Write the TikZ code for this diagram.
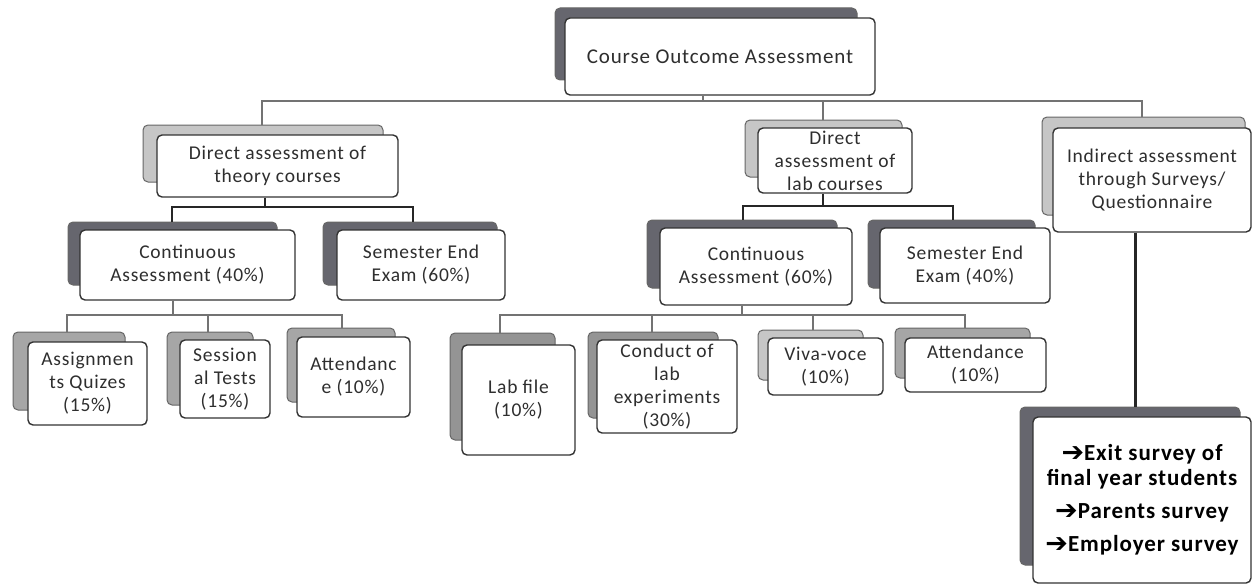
\documentclass[tikz,border=0pt]{standalone}
\usepackage{fontspec}
\setmainfont{Carlito}[LetterSpace=4]
\newfontfamily\arrowfont{DejaVu Sans}
\usetikzlibrary{fit,calc}
\definecolor{shdark}{HTML}{66666E}
\definecolor{shlight}{HTML}{C6C6C6}
\definecolor{shmid}{HTML}{A6A6A6}
\definecolor{shmidd}{HTML}{949494}
\tikzset{
  frontbox/.style={draw=black!80, line width=1.4pt, fill=white, rounded corners=5pt, inner sep=0pt},
  backbox/.style={draw=black!60, line width=1pt, rounded corners=5pt, inner sep=0pt},
  txt/.style={align=center, text=black!82, font=\fontsize{19.5}{23}\selectfont, inner sep=0pt},
  stxt/.style={align=center, text=black, font=\bfseries\fontsize{23}{25}\selectfont, inner sep=0pt},
  bus/.style={draw=black!55, line width=1.5pt},
  bracket/.style={draw=black!85, line width=2.2pt},
  survline/.style={draw=black!85, line width=3pt},
}
% #1 text style, #2 name, #3 front points, #4 shadow points, #5 shadow colour, #6 text
\newcommand\tbox[6][]{%
  \node[backbox, fill=#5, fit={#4}] (#2S) {};
  \node[frontbox, fit={#3}, label={[txt,#1]center:{#6}}] (#2) {};
}
\newcommand\arr{{\arrowfont\fontsize{27}{20}\selectfont\raisebox{-1pt}{\char"2794}}}
\begin{document}
\begin{tikzpicture}[x=1pt,y=-1pt]
\fill[white] (0,0) rectangle (1253,586);
\useasboundingbox (0,0) rectangle (1253,586);

\tbox[font=\fontsize{21}{24}\selectfont]{top}{(565,18)(875,95)}{(555,8)(857,80)}{shdark}{Course Outcome Assessment}
\tbox{th}{(157,135)(398,197)}{(143,125)(383,182)}{shlight}{Direct assessment of\\theory courses}
\tbox{lab}{(758,128)(912,193)}{(745,120)(902,177)}{shlight}{Direct\\assessment of\\lab courses}
\tbox{ind}{(1053,128)(1251,232)}{(1042,117)(1245,215)}{shlight}{Indirect assessment\\through Surveys/\\Questionnaire}

\tbox{caA}{(80,230)(295,300)}{(68,222)(277,285)}{shdark}{Continuous\\Assessment (40\%)}
\tbox{seA}{(337,230)(505,300)}{(323,222)(497,285)}{shdark}{Semester End\\Exam (60\%)}
\tbox{caB}{(660,228)(852,305)}{(647,220)(837,288)}{shdark}{Continuous\\Assessment (60\%)}
\tbox{seB}{(880,228)(1050,303)}{(868,220)(1035,288)}{shdark}{Semester End\\Exam (40\%)}

\tbox{asg}{(28,342)(147,425)}{(13,332)(125,410)}{shmid}{Assignmen\\ts Quizes\\(15\%)}
\tbox{ses}{(180,340)(270,418)}{(167,332)(253,405)}{shmid}{Session\\al Tests\\(15\%)}
\tbox{atA}{(297,337)(410,417)}{(287,328)(395,402)}{shmid}{Attendanc\\e (10\%)}

\tbox{lf}{(462,345)(575,455)}{(450,333)(555,440)}{shmidd}{Lab file\\(10\%)}
\tbox{con}{(597,340)(737,433)}{(588,332)(718,418)}{shmidd}{Conduct of\\lab\\experiments\\(30\%)}
\tbox{viva}{(768,338)(883,395)}{(758,330)(863,380)}{shlight}{Viva-voce\\(10\%)}
\tbox{atB}{(905,338)(1046,392)}{(895,328)(1030,378)}{shmid}{Attendance\\(10\%)}

\tbox[stxt]{sur}{(1033,417)(1251,583)}{(1020,407)(1240,565)}{shdark}{\arr Exit survey of\\final year students\\[8pt]\arr Parents survey\\[8pt]\arr Employer survey}

% top bus
\coordinate (busT) at (703,101);
\coordinate (busL) at (262,101);
\coordinate (busM) at (823,101);
\coordinate (busR) at (1142,101);
\draw[bus] (busT |- top.south) -- (busT);
\draw[bus] (busL |- thS.north) -- (busL) -- (busR) -- (busR |- indS.north);
\draw[bus] (busM) -- (busM |- labS.north);

% theory bracket
\coordinate (tbL) at (172,207);
\coordinate (tbM) at (265,207);
\coordinate (tbR) at (413,207);
\draw[bracket] (tbM |- th.south) -- (tbM);
\draw[bracket] (tbL |- caAS.north) -- (tbL) -- (tbR) -- (tbR |- seAS.north);

% lab bracket
\coordinate (lbL) at (743,206);
\coordinate (lbM) at (823,206);
\coordinate (lbR) at (953,206);
\draw[bracket] (lbM |- lab.south) -- (lbM);
\draw[bracket] (lbL |- caBS.north) -- (lbL) -- (lbR) -- (lbR |- seBS.north);

% theory bottom bus
\coordinate (t2L) at (67,315);
\coordinate (t2M) at (173,315);
\coordinate (t2S) at (208,315);
\coordinate (t2R) at (342,315);
\draw[bus] (t2M |- caA.south) -- (t2M);
\draw[bus] (t2L |- asgS.north) -- (t2L) -- (t2R) -- (t2R |- atAS.north);
\draw[bus] (t2S) -- (t2S |- sesS.north);

% lab bottom bus
\coordinate (l2L) at (500,315);
\coordinate (l2C) at (652,315);
\coordinate (l2M) at (742,315);
\coordinate (l2V) at (813,315);
\coordinate (l2R) at (965,315);
\draw[bus] (l2M |- caB.south) -- (l2M);
\draw[bus] (l2L |- lfS.north) -- (l2L) -- (l2R) -- (l2R |- atBS.north);
\draw[bus] (l2C) -- (l2C |- conS.north);
\draw[bus] (l2V) -- (l2V |- vivaS.north);

% indirect to survey
\draw[survline] (1135,0 |- ind.south) -- (1135,0 |- surS.north);
\end{tikzpicture}
\end{document}
